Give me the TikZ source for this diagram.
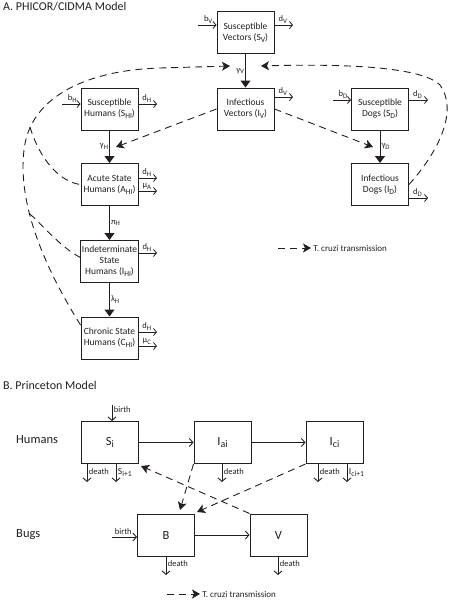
\documentclass[tikz,border=0pt]{standalone}
\usepackage{fontspec}
\setmainfont{Carlito}
\usetikzlibrary{arrows.meta,calc}
\definecolor{ink}{HTML}{231F20}
\newcommand{\lsub}[1]{\raisebox{-0.45ex}{\scalebox{0.8}{#1}}}
\begin{document}
\begin{tikzpicture}[x=1pt,y=-1pt,
  every node/.style={text=ink},
  boxA/.style={draw=ink, line width=1pt, minimum width=57pt, minimum height=42pt, inner sep=1pt, align=center, font=\fontsize{9.5}{11}\selectfont},
  boxB/.style={draw=ink, line width=1pt, minimum width=57pt, minimum height=42pt, inner sep=1pt, font=\fontsize{12.5}{14}\selectfont},
  flow/.style={draw=ink, line width=0.8pt, -{Straight Barb[length=3pt,width=7pt,line width=0.8pt]}},
  flowB/.style={draw=ink, line width=0.9pt, -{Straight Barb[length=3.5pt,width=8pt,line width=0.9pt]}},
  solidarrow/.style={draw=ink, line width=1pt, -{Triangle[length=7pt,width=10pt]}},
  trans/.style={draw=ink, line width=0.9pt, dash pattern=on 7pt off 5pt, -{Stealth[length=8pt,width=9pt,inset=2pt]}},
  transline/.style={draw=ink, line width=0.9pt, dash pattern=on 7pt off 5pt},
  lab/.style={font=\fontsize{8.5}{9}\selectfont, inner sep=1pt},
  slab/.style={font=\fontsize{8.5}{10}\selectfont, inner sep=1.5pt},
  titletext/.style={font=\fontsize{12}{13}\selectfont, anchor=base west, inner sep=0pt},
  grp/.style={font=\fontsize{12.5}{14}\selectfont, anchor=base west, inner sep=0pt},
  legtext/.style={font=\fontsize{9}{10}\selectfont, inner sep=2pt, right},
]
\useasboundingbox (0,0) rectangle (455,602);

% ---------------- Part A ----------------
\node[titletext] (ta) at (3,11) {A. PHICOR/CIDMA Model};

\node[boxA] (sv) at (245.5,33) {Susceptible\\Vectors (S\lsub{V})};
\node[boxA] (iv) at (245.5,109) {Infectious\\Vectors (I\lsub{V})};
\node[boxA] (sh) at (109.5,109) {Susceptible\\Humans (S\lsub{HI})};
\node[boxA] (ah) at (109.5,184.5) {Acute State\\Humans (A\lsub{HI})};
\node[boxA] (ih) at (109.5,261.5) {Indeterminate\\State\\Humans (I\lsub{HI})};
\node[boxA] (ch) at (109.5,338) {Chronic State\\Humans (C\lsub{HI})};
\node[boxA] (sd) at (380,109) {Susceptible\\Dogs (S\lsub{D})};
\node[boxA] (id) at (380,184.5) {Infectious\\Dogs (I\lsub{D})};

% main transitions
\draw[solidarrow] (sv) -- (iv) node[lab, midway, left] {γ\lsub{V}};
\draw[solidarrow] (sh) -- (ah) node[lab, midway, left] {γ\lsub{H}};
\draw[solidarrow] (ah) -- (ih) node[lab, midway, right] {π\lsub{H}};
\draw[solidarrow] (ih) -- (ch) node[lab, midway, right] {λ\lsub{H}};
\draw[solidarrow] (sd) -- (id) node[lab, midway, right] {γ\lsub{D}};

% inflows / outflows
\coordinate (bvi) at (198,25);
\draw[flow] (bvi) -- (bvi -| sv.west) node[lab, above, pos=0.55] {b\lsub{V}};
\coordinate (dvo) at (293,25);
\draw[flow] (dvo -| sv.east) -- (dvo) node[lab, above, pos=0.45] {d\lsub{V}};
\coordinate (dvo2) at (293,97);
\draw[flow] (dvo2 -| iv.east) -- (dvo2) node[lab, above, pos=0.45] {d\lsub{V}};

\coordinate (bhi) at (62,104);
\draw[flow] (bhi) -- (bhi -| sh.west) node[lab, above, pos=0.55] {b\lsub{H}};
\coordinate (dho1) at (157,104);
\draw[flow] (dho1 -| sh.east) -- (dho1) node[lab, above, pos=0.45] {d\lsub{H}};
\coordinate (dho2) at (157,178);
\draw[flow] (dho2 -| ah.east) -- (dho2) node[lab, above, pos=0.45] {d\lsub{H}};
\coordinate (muA) at (157,191);
\draw[flow] (muA -| ah.east) -- (muA) node[lab, above, pos=0.45] {μ\lsub{A}};
\coordinate (dho3) at (157,253);
\draw[flow] (dho3 -| ih.east) -- (dho3) node[lab, above, pos=0.45] {d\lsub{H}};
\coordinate (dho4) at (157,332);
\draw[flow] (dho4 -| ch.east) -- (dho4) node[lab, above, pos=0.45] {d\lsub{H}};
\coordinate (muC) at (157,346);
\draw[flow] (muC -| ch.east) -- (muC) node[lab, above, pos=0.45] {μ\lsub{C}};

\coordinate (bdi) at (333,100);
\draw[flow] (bdi) -- (bdi -| sd.west) node[lab, above, pos=0.55] {b\lsub{D}};
\coordinate (ddo1) at (428,100);
\draw[flow] (ddo1 -| sd.east) -- (ddo1) node[lab, above, pos=0.45] {d\lsub{D}};
\coordinate (ddo2) at (428,198);
\draw[flow] (ddo2 -| id.east) -- (ddo2) node[lab, above, pos=0.45] {d\lsub{D}};

% T. cruzi transmission (A)
\coordinate (gvL) at (230,66);
\coordinate (gvR) at (261,66);
\draw[trans] ([yshift=13pt]ch.west) .. controls (40,260) and (18,200) .. (24,150)
  .. controls (30,95) and (90,70) .. (160,68) -- (gvL);
\coordinate (brA) at (30,127);
\draw[transline] (brA) .. controls (40,160) and (60,182) .. (ah.west);
\coordinate (brI) at (30,214);
\draw[transline] (brI) .. controls (45,228) and (62,248) .. ([yshift=4pt]ih.west);
\draw[trans] (id.east) .. controls (440,150) and (458,110) .. (440,85)
  .. controls (420,65) and (330,64) .. (gvR);
\coordinate (tipH) at (116,147);
\draw[trans] (iv.west) -- (tipH);
\coordinate (tipD) at (373,147);
\draw[trans] (iv.east) -- (tipD);

\coordinate (legA) at (278,248);
\draw[trans] (legA) -- ++(33,0) node[legtext] (legAtext) {T. cruzi transmission};

% ---------------- Part B ----------------
\node[titletext] (tb) at (3,389) {B. Princeton Model};
\node[grp] (hum) at (16,443) {Humans};
\node[grp] (bug) at (16,537) {Bugs};

\node[boxB] (si) at (110,442.5) {S\lsub{i}};
\node[boxB] (iai) at (222.5,442.5) {I\lsub{ai}};
\node[boxB] (ici) at (334.5,442.5) {I\lsub{ci}};
\node[boxB] (bb) at (166,535) {B};
\node[boxB] (vv) at (278.5,535) {V};

\draw[flowB] (si) -- (iai);
\draw[flowB] (iai) -- (ici);
\draw[flowB] (bb) -- (vv);

\coordinate (birthS) at (112,405);
\draw[flowB] (birthS) -- (birthS |- si.north) node[slab, right, pos=0.3] {birth};
\coordinate (birthB) at (112,537);
\draw[flowB] (birthB) -- (birthB -| bb.west) node[slab, above, pos=0.45] {birth};

\coordinate (dSi) at (87,482);
\draw[flowB] (dSi |- si.south) -- (dSi) node[slab, right, pos=0.4] {death};
\coordinate (sNext) at (116,482);
\draw[flowB] (sNext |- si.south) -- (sNext) node[slab, right, pos=0.45, font=\fontsize{9.5}{11}\selectfont] {S\lsub{i+1}};
\coordinate (dIa) at (222,482);
\draw[flowB] (dIa |- iai.south) -- (dIa) node[slab, right, pos=0.4] {death};
\coordinate (dIc) at (318,482);
\draw[flowB] (dIc |- ici.south) -- (dIc) node[slab, right, pos=0.4] {death};
\coordinate (cNext) at (347,482);
\draw[flowB] (cNext |- ici.south) -- (cNext) node[slab, right, pos=0.45, font=\fontsize{9.5}{11}\selectfont] {I\lsub{ci+1}};
\coordinate (dB) at (166,575);
\draw[flowB] (dB |- bb.south) -- (dB) node[slab, right, pos=0.4] {death};
\coordinate (dV) at (278,575);
\draw[flowB] (dV |- vv.south) -- (dV) node[slab, right, pos=0.4] {death};

% T. cruzi transmission (B)
\coordinate (tB1) at (197,512);
\draw[trans] (ici.south west) -- (tB1);
\coordinate (tS) at (141,466);
\draw[trans] (vv.north west) -- (tS);
\coordinate (tB2) at (180,510);
\draw[trans] (iai.south west) -- (tB2);

\coordinate (legB) at (167,594);
\draw[trans] (legB) -- ++(33,0) node[legtext] (legBtext) {T. cruzi transmission};
\end{tikzpicture}
\end{document}
